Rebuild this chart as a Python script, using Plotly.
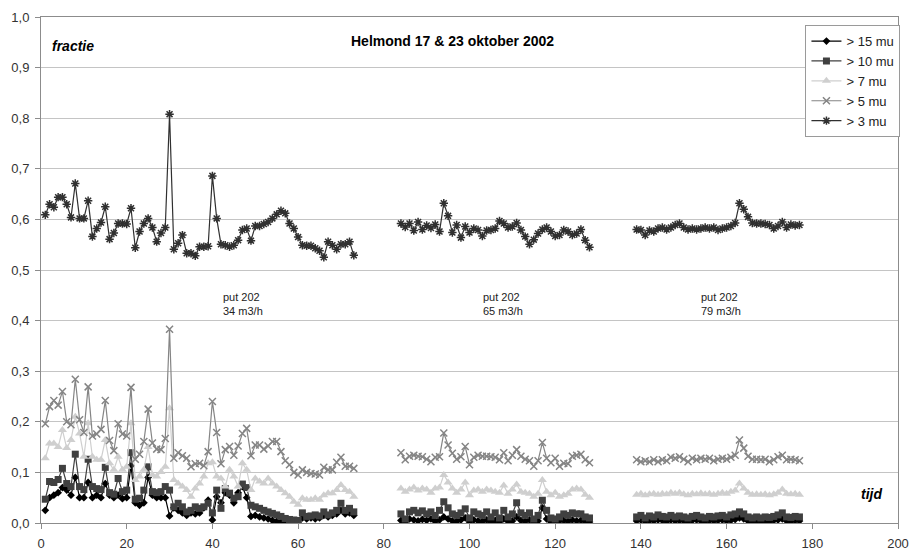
import plotly.graph_objects as go

# ---- data ----
x_seg1 = list(range(1, 74))
x_seg2 = list(range(84, 129))
x_seg3 = list(range(139, 178))

mu3_seg1 = [0.609, 0.630, 0.624, 0.644, 0.644, 0.630, 0.604, 0.671, 0.602, 0.602,
            0.637, 0.566, 0.582, 0.594, 0.625, 0.561, 0.573, 0.592, 0.592, 0.591,
            0.622, 0.544, 0.576, 0.592, 0.602, 0.584, 0.556, 0.573, 0.584, 0.808,
            0.541, 0.553, 0.569, 0.533, 0.533, 0.528, 0.546, 0.546, 0.547, 0.686,
            0.602, 0.551, 0.549, 0.546, 0.549, 0.559, 0.579, 0.582, 0.558, 0.587,
            0.587, 0.591, 0.595, 0.602, 0.610, 0.617, 0.612, 0.592, 0.582, 0.565,
            0.549, 0.548, 0.548, 0.543, 0.538, 0.525, 0.556, 0.549, 0.541, 0.551,
            0.551, 0.556, 0.529]
mu3_seg2 = [0.592, 0.585, 0.592, 0.578, 0.595, 0.580, 0.588, 0.583, 0.590, 0.576,
            0.632, 0.607, 0.574, 0.589, 0.564, 0.586, 0.574, 0.582, 0.579, 0.567,
            0.578, 0.579, 0.582, 0.597, 0.592, 0.584, 0.586, 0.593, 0.579, 0.566,
            0.551, 0.560, 0.572, 0.580, 0.584, 0.576, 0.567, 0.569, 0.579, 0.576,
            0.569, 0.572, 0.580, 0.559, 0.545]
mu3_seg3 = [0.580, 0.579, 0.569, 0.578, 0.576, 0.582, 0.584, 0.580, 0.584, 0.589,
            0.592, 0.584, 0.580, 0.582, 0.580, 0.582, 0.584, 0.582, 0.584, 0.579,
            0.582, 0.584, 0.587, 0.593, 0.632, 0.620, 0.605, 0.593, 0.592, 0.592,
            0.591, 0.589, 0.582, 0.587, 0.595, 0.584, 0.590, 0.588, 0.589]

mu5_seg1 = [0.196, 0.230, 0.242, 0.233, 0.260, 0.200, 0.194, 0.284, 0.204, 0.179,
            0.269, 0.172, 0.176, 0.185, 0.242, 0.163, 0.143, 0.196, 0.176, 0.172,
            0.268, 0.126, 0.136, 0.161, 0.225, 0.158, 0.146, 0.145, 0.167, 0.383,
            0.128, 0.139, 0.133, 0.128, 0.111, 0.117, 0.118, 0.113, 0.141, 0.240,
            0.179, 0.117, 0.145, 0.151, 0.134, 0.152, 0.177, 0.187, 0.133, 0.154,
            0.154, 0.146, 0.152, 0.161, 0.161, 0.141, 0.123, 0.115, 0.100, 0.095,
            0.105, 0.100, 0.098, 0.097, 0.095, 0.110, 0.105, 0.105, 0.120, 0.130,
            0.112, 0.112, 0.108]
mu5_seg2 = [0.139, 0.125, 0.132, 0.134, 0.132, 0.131, 0.126, 0.121, 0.130, 0.131,
            0.178, 0.154, 0.138, 0.126, 0.131, 0.151, 0.115, 0.130, 0.134, 0.132,
            0.132, 0.131, 0.130, 0.125, 0.139, 0.123, 0.134, 0.145, 0.132, 0.126,
            0.123, 0.112, 0.123, 0.159, 0.128, 0.119, 0.128, 0.112, 0.118, 0.117,
            0.132, 0.134, 0.136, 0.125, 0.119]
mu5_seg3 = [0.125, 0.121, 0.123, 0.121, 0.125, 0.121, 0.125, 0.123, 0.130, 0.128,
            0.131, 0.126, 0.121, 0.128, 0.125, 0.128, 0.126, 0.128, 0.123, 0.126,
            0.128, 0.126, 0.130, 0.134, 0.164, 0.148, 0.132, 0.126, 0.126, 0.125,
            0.126, 0.121, 0.125, 0.131, 0.134, 0.125, 0.126, 0.125, 0.123]

mu7_seg1 = [0.128, 0.157, 0.157, 0.150, 0.184, 0.148, 0.164, 0.210, 0.177, 0.131,
            0.197, 0.131, 0.125, 0.125, 0.164, 0.118, 0.105, 0.131, 0.105, 0.111,
            0.197, 0.085, 0.092, 0.105, 0.150, 0.095, 0.092, 0.101, 0.111, 0.227,
            0.085, 0.078, 0.072, 0.065, 0.052, 0.068, 0.078, 0.092, 0.118, 0.120,
            0.092, 0.088, 0.072, 0.105, 0.092, 0.072, 0.118, 0.105, 0.065, 0.088,
            0.082, 0.078, 0.088, 0.078, 0.072, 0.065, 0.059, 0.052, 0.042, 0.036,
            0.049, 0.046, 0.046, 0.049, 0.046, 0.055, 0.059, 0.059, 0.065, 0.075,
            0.065, 0.062, 0.052]
mu7_seg2 = [0.068, 0.062, 0.066, 0.070, 0.064, 0.068, 0.066, 0.060, 0.068, 0.070,
            0.095, 0.080, 0.068, 0.060, 0.066, 0.080, 0.055, 0.064, 0.066, 0.062,
            0.066, 0.064, 0.062, 0.060, 0.074, 0.058, 0.066, 0.076, 0.062, 0.060,
            0.058, 0.052, 0.058, 0.085, 0.062, 0.055, 0.060, 0.052, 0.055, 0.058,
            0.066, 0.068, 0.066, 0.056, 0.050]
mu7_seg3 = [0.056, 0.058, 0.055, 0.057, 0.058, 0.056, 0.058, 0.057, 0.060, 0.058,
            0.060, 0.057, 0.055, 0.058, 0.057, 0.059, 0.057, 0.058, 0.056, 0.058,
            0.060, 0.058, 0.062, 0.064, 0.078, 0.068, 0.060, 0.056, 0.057, 0.056,
            0.057, 0.055, 0.057, 0.060, 0.066, 0.058, 0.057, 0.058, 0.056]

mu10_seg1 = [0.047, 0.082, 0.080, 0.086, 0.108, 0.078, 0.072, 0.136, 0.072, 0.066,
             0.126, 0.072, 0.068, 0.066, 0.110, 0.060, 0.057, 0.088, 0.062, 0.065,
             0.139, 0.047, 0.049, 0.065, 0.111, 0.062, 0.060, 0.062, 0.072, 0.065,
             0.032, 0.039, 0.032, 0.022, 0.025, 0.032, 0.029, 0.032, 0.039, 0.020,
             0.065, 0.029, 0.068, 0.059, 0.049, 0.052, 0.077, 0.070, 0.035, 0.032,
             0.029, 0.025, 0.022, 0.019, 0.016, 0.013, 0.009, 0.007, 0.006, 0.005,
             0.020, 0.013, 0.014, 0.016, 0.014, 0.022, 0.016, 0.020, 0.025, 0.039,
             0.025, 0.029, 0.022]
mu10_seg2 = [0.018, 0.008, 0.022, 0.025, 0.020, 0.024, 0.018, 0.022, 0.015, 0.025,
             0.042, 0.030, 0.018, 0.015, 0.020, 0.028, 0.010, 0.022, 0.018, 0.015,
             0.022, 0.012, 0.020, 0.010, 0.025, 0.012, 0.018, 0.040, 0.020, 0.015,
             0.020, 0.008, 0.015, 0.045, 0.025, 0.010, 0.008, 0.012, 0.018, 0.015,
             0.020, 0.018, 0.018, 0.012, 0.010]
mu10_seg3 = [0.012, 0.015, 0.010, 0.014, 0.012, 0.016, 0.013, 0.012, 0.015, 0.012,
             0.014, 0.012, 0.010, 0.013, 0.015, 0.012, 0.010, 0.013, 0.012, 0.014,
             0.015, 0.012, 0.016, 0.018, 0.022, 0.018, 0.012, 0.010, 0.012, 0.010,
             0.012, 0.011, 0.013, 0.016, 0.020, 0.012, 0.011, 0.013, 0.012]

mu15_seg1 = [0.025, 0.050, 0.055, 0.060, 0.070, 0.065, 0.055, 0.090, 0.050, 0.050,
             0.080, 0.050, 0.055, 0.050, 0.078, 0.055, 0.050, 0.055, 0.048, 0.050,
             0.113, 0.040, 0.035, 0.040, 0.090, 0.055, 0.050, 0.050, 0.050, 0.014,
             0.030, 0.025, 0.020, 0.015, 0.020, 0.018, 0.020, 0.030, 0.045, 0.006,
             0.052, 0.040, 0.060, 0.055, 0.040, 0.060, 0.072, 0.050, 0.013, 0.015,
             0.012, 0.010, 0.008, 0.005, 0.003, 0.002, 0.001, 0.001, 0.001, 0.002,
             0.010, 0.008, 0.010, 0.008, 0.010, 0.015, 0.012, 0.015, 0.018, 0.025,
             0.018, 0.020, 0.015]
mu15_seg2 = [0.005, 0.002, 0.008, 0.006, 0.004, 0.007, 0.005, 0.008, 0.003, 0.006,
             0.012, 0.008, 0.004, 0.003, 0.006, 0.010, 0.002, 0.006, 0.004, 0.003,
             0.006, 0.002, 0.005, 0.002, 0.008, 0.003, 0.004, 0.012, 0.005, 0.003,
             0.006, 0.002, 0.004, 0.030, 0.008, 0.002, 0.003, 0.004, 0.005, 0.003,
             0.006, 0.004, 0.005, 0.003, 0.002]
mu15_seg3 = [0.004, 0.006, 0.003, 0.005, 0.004, 0.006, 0.005, 0.003, 0.006, 0.004,
             0.005, 0.004, 0.003, 0.005, 0.006, 0.004, 0.003, 0.005, 0.004, 0.005,
             0.006, 0.004, 0.005, 0.007, 0.010, 0.008, 0.004, 0.003, 0.004, 0.003,
             0.004, 0.003, 0.005, 0.006, 0.008, 0.004, 0.003, 0.005, 0.004]

series_names = ["> 15 mu", "> 10 mu", "> 7 mu", "> 5 mu", "> 3 mu"]
annot_x = [42, 102.7, 153.6]
annot_text = ["put 202<br>34 m3/h", "put 202<br>65 m3/h", "put 202<br>79 m3/h"]
annot_y = 0.433


def join(a, b, c):
    return a + [None] + b + [None] + c


x_all = join(x_seg1, x_seg2, x_seg3)
values = [
    join(mu15_seg1, mu15_seg2, mu15_seg3),
    join(mu10_seg1, mu10_seg2, mu10_seg3),
    join(mu7_seg1, mu7_seg2, mu7_seg3),
    join(mu5_seg1, mu5_seg2, mu5_seg3),
    join(mu3_seg1, mu3_seg2, mu3_seg3),
]

styles = [
    dict(color="#000000", symbol="diamond", size=6, lw=1.2, mlw=0),
    dict(color="#404040", symbol="square", size=7, lw=1.2, mlw=0),
    dict(color="#cfcfcf", symbol="triangle-up", size=8, lw=1.2, mlw=0),
    dict(color="#858585", symbol="x-thin-open", size=7, lw=1.2, mlw=1.5),
    dict(color="#303030", symbol="asterisk-open", size=7, lw=1.2, mlw=1.5),
]

fig = go.Figure()
for name, vals, st in zip(series_names, values, styles):
    fig.add_trace(go.Scatter(
        x=x_all, y=vals, name=name, mode="lines+markers",
        connectgaps=False,
        line=dict(color=st["color"], width=st["lw"]),
        marker=dict(symbol=st["symbol"], size=st["size"], color=st["color"],
                    line=dict(color=st["color"], width=st["mlw"])),
    ))

for ax_, at in zip(annot_x, annot_text):
    fig.add_annotation(x=ax_, y=annot_y, text=at, showarrow=False,
                       xanchor="left", yanchor="middle", align="left",
                       font=dict(family="Liberation Sans, Arial", size=11, color="#222222"))

fig.add_annotation(xref="paper", yref="paper", x=0.48, y=0.952,
                   text="<b>Helmond 17 &amp; 23 oktober 2002</b>", showarrow=False,
                   xanchor="center", yanchor="middle",
                   font=dict(family="Liberation Sans, Arial", size=14, color="#000000"))
fig.add_annotation(xref="paper", yref="paper", x=0.01, y=0.942,
                   text="<b><i>fractie</i></b>", showarrow=False,
                   xanchor="left", yanchor="middle",
                   font=dict(family="Liberation Sans, Arial", size=14, color="#000000"))
fig.add_annotation(xref="paper", yref="paper", x=0.955, y=0.057,
                   text="<b><i>tijd</i></b>", showarrow=False,
                   xanchor="left", yanchor="middle",
                   font=dict(family="Liberation Sans, Arial", size=14, color="#000000"))

fig.update_layout(
    width=913, height=553,
    margin=dict(l=41, r=15, t=17, b=30, autoexpand=False),
    paper_bgcolor="white", plot_bgcolor="white",
    separators=",.",
    font=dict(family="Liberation Sans, Arial", size=13, color="#333333"),
    showlegend=True,
    legend=dict(x=0.892, y=0.984, xanchor="left", yanchor="top",
                bgcolor="white", bordercolor="#9a9a9a", borderwidth=1,
                font=dict(size=13, color="#222222"),
                itemwidth=30, tracegroupgap=0),
    xaxis=dict(range=[0, 200], dtick=20, tick0=0, showgrid=False, automargin=False,
               showline=True, linecolor="#8c8c8c", linewidth=1, mirror=True,
               ticks="outside", ticklen=5, tickcolor="#8c8c8c", zeroline=False,
               ticklabelstandoff=3),
    yaxis=dict(range=[0, 1.0], dtick=0.1, tickformat=".1f", showgrid=True, automargin=False,
               gridcolor="#c4c4c4", gridwidth=1,
               showline=True, linecolor="#8c8c8c", linewidth=1, mirror=True,
               ticks="outside", ticklen=5, tickcolor="#8c8c8c", zeroline=False,
               ticklabelstandoff=3),
)

fig.write_html("out.html", config={"displayModeBar": False},
               post_script="document.body.style.margin='0';document.body.style.padding='0';"
                           "document.body.style.overflow='hidden';")
